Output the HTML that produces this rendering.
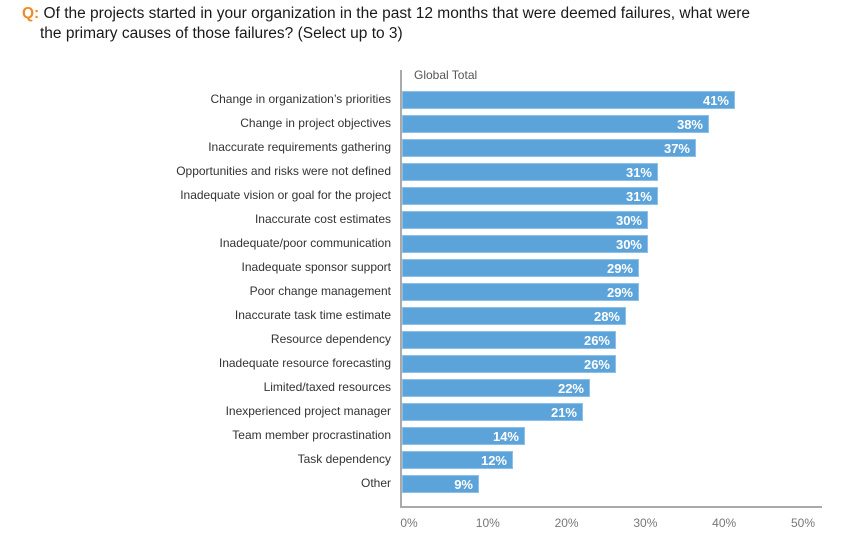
<!DOCTYPE html>
<html><head><style>
body{margin:0;width:843px;height:543px;background:#fff;font-family:"Liberation Sans",sans-serif;position:relative;overflow:hidden}
.t{position:absolute;left:22px;top:4px;font-size:15.5px;line-height:20px;color:#1a1a1a}
.t b{color:#f08a24;font-weight:bold}
.l{position:absolute;right:452px;font-size:12px;color:#333;text-align:right;white-space:nowrap}
.b{position:absolute;left:402px;height:18px;background:#5ba3d9;border:1px solid #8cc0e8;box-sizing:border-box}
.b span{position:absolute;right:5px;top:0;line-height:17px;color:#fff;font-weight:bold;font-size:13px}
.x{position:absolute;top:516px;font-size:12px;color:#777;width:40px;margin-left:-20px;text-align:center}
</style></head><body>
<div class="t"><b>Q:</b> Of the projects started in your organization in the past 12 months that were deemed failures, what were<br><span style="padding-left:18px">the primary causes of those failures? (Select up to 3)</span></div>
<div style="position:absolute;left:400px;top:70px;width:2px;height:438px;background:#aaa"></div>
<div style="position:absolute;left:400px;top:506px;width:422px;height:2px;background:#aaa"></div>
<div style="position:absolute;left:414px;top:68px;font-size:12px;color:#555">Global Total</div>
<div id="c"></div>
<script>
const d=[["Change in organization’s priorities",41,735],["Change in project objectives",38,709],["Inaccurate requirements gathering",37,696],["Opportunities and risks were not defined",31,658],["Inadequate vision or goal for the project",31,658],["Inaccurate cost estimates",30,648],["Inadequate/poor communication",30,648],["Inadequate sponsor support",29,639],["Poor change management",29,639],["Inaccurate task time estimate",28,626],["Resource dependency",26,616],["Inadequate resource forecasting",26,616],["Limited/taxed resources",22,590],["Inexperienced project manager",21,583],["Team member procrastination",14,525],["Task dependency",12,513],["Other",9,479]];
let h="";d.forEach((r,i)=>{const y=91+i*24;h+=`<div class="l" style="top:${y+1}px">${r[0]}</div><div class="b" style="top:${y}px;width:${r[2]-402}px"><span>${r[1]}%</span></div>`});
[0,10,20,30,40,50].forEach((v,i)=>{h+=`<div class="x" style="left:${409+i*78.8}px">${v}%</div>`});
document.getElementById("c").innerHTML=h;
</script>
</body></html>
